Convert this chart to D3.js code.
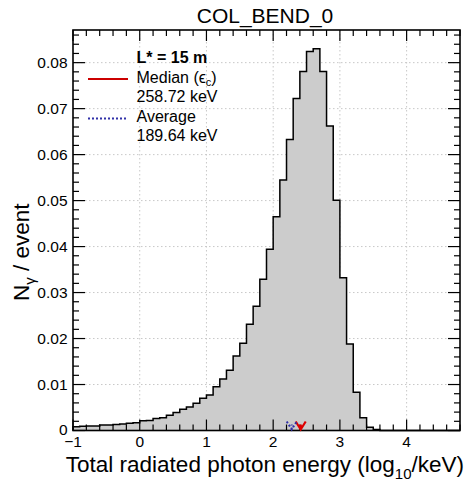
<!DOCTYPE html>
<html><head><meta charset="utf-8">
<script src="https://cdn.jsdelivr.net/npm/d3@7"></script>
<style>body{margin:0;background:#fff}svg{display:block}text{font-family:"Liberation Sans",Arial,sans-serif}</style>
</head><body>
<svg id="c" width="472" height="482"></svg>
<script>
const binStart = -1.0;
const binWidth = 0.1;
const binValues = [
  0.0008,0.0009,0.0010,0.0010,0.0012,0.0012,0.0013,0.0014,0.0016,0.0017,
  0.0021,0.0022,0.0026,0.0028,0.0033,0.0039,0.0046,0.0051,0.0059,0.0070,
  0.0077,0.0095,0.0112,0.0131,0.0162,0.0190,0.0231,0.0270,0.0329,0.0394,
  0.0465,0.0545,0.0633,0.0722,0.0781,0.0824,0.0830,0.0781,0.0662,0.0501,
  0.0332,0.0188,0.0083,0.0028,0.0007,0.0002,0,0,0,0,
  0,0,0,0,0,0,0,0
];
const xTicks = [-1,0,1,2,3,4];
const xTickLabels = ["\u22121","0","1","2","3","4"];
const yTicks = [0,0.01,0.02,0.03,0.04,0.05,0.06,0.07,0.08];
const yTickLabels = ["0","0.01","0.02","0.03","0.04","0.05","0.06","0.07","0.08"];
const legendTitle = "L* = 15 m";
const medianKeV = 258.72;
const averageKeV = 189.64;

const L=73,R=460,T=30,B=430.5;
const svg=d3.select("#c");
const x=d3.scaleLinear().domain([-1,4.8]).range([L,R]);
const y=d3.scaleLinear().domain([0,0.0871]).range([B,T]);

// grid
const g=svg.append("g");
xTicks.filter(v=>v>-1).forEach(v=>g.append("line").attr("x1",x(v)).attr("x2",x(v)).attr("y1",T).attr("y2",B)
  .attr("stroke","#c8c8c8").attr("stroke-dasharray","1.5,2.5"));
yTicks.filter(v=>v>0).forEach(v=>g.append("line").attr("y1",y(v)).attr("y2",y(v)).attr("x1",L).attr("x2",R)
  .attr("stroke","#c8c8c8").attr("stroke-dasharray","1.5,2.5"));

// histogram
let pts=[[x(binStart),y(0)]];
binValues.forEach((v,i)=>{const a=binStart+i*binWidth;pts.push([x(a),y(v)]);pts.push([x(a+binWidth),y(v)]);});
pts.push([x(binStart+binValues.length*binWidth),y(0)]);
svg.append("path").attr("d",d3.line()(pts)).attr("fill","#cccccc").attr("stroke","#000").attr("stroke-width",1.5);

// ticks
const tk=svg.append("g").attr("stroke","#000").attr("stroke-width",1.2);
const xMinor=d3.range(-1,4.81,0.2);
xMinor.forEach(v=>{
  const major=Math.abs(v-Math.round(v))<1e-6;
  const len=major?11:6;
  tk.append("line").attr("x1",x(v)).attr("x2",x(v)).attr("y1",B).attr("y2",B-len);
  tk.append("line").attr("x1",x(v)).attr("x2",x(v)).attr("y1",T).attr("y2",T+len);
});
const yMinor=d3.range(0,0.0871,0.002);
yMinor.forEach(v=>{
  const major=Math.abs(v*100-Math.round(v*100))<1e-6;
  const len=major?12:6;
  tk.append("line").attr("y1",y(v)).attr("y2",y(v)).attr("x1",L).attr("x2",L+len);
  tk.append("line").attr("y1",y(v)).attr("y2",y(v)).attr("x1",R).attr("x2",R-len);
});
svg.append("rect").attr("x",L).attr("y",T).attr("width",R-L).attr("height",B-T).attr("fill","none").attr("stroke","#000").attr("stroke-width",1.6);

// tick labels
xTicks.forEach((v,i)=>svg.append("text").attr("x",x(v)).attr("y",447).attr("text-anchor","middle").attr("font-size",15.5).text(xTickLabels[i]));
yTicks.forEach((v,i)=>svg.append("text").attr("x",67.5).attr("y",y(v)+(v===0?4:5.5)).attr("text-anchor","end").attr("font-size",15.5).text(yTickLabels[i]));

// markers
const mx=x(Math.log10(medianKeV)), ax=x(Math.log10(averageKeV));
svg.append("path").attr("d",`M${mx-5},${B-9}L${mx},${B-1}L${mx+5},${B-9}M${mx},${B-1}L${mx},${B-6}`).attr("fill","none").attr("stroke","#dd0000").attr("stroke-width",2.2);
svg.append("path").attr("d",`M${ax-5},${B-9}L${ax},${B-1}L${ax+5},${B-9}M${ax},${B-1}L${ax},${B-6}`).attr("fill","none").attr("stroke","#3030a8").attr("stroke-width",2).attr("stroke-dasharray","2,2");

// legend
svg.append("text").attr("x",136.5).attr("y",63).attr("font-size",16).attr("font-weight","bold").text(legendTitle);
svg.append("line").attr("x1",88).attr("x2",128).attr("y1",79).attr("y2",79).attr("stroke","#cc0000").attr("stroke-width",2);
const t1=svg.append("text").attr("x",136.5).attr("y",83).attr("font-size",16);
t1.append("tspan").text("Median (\u03f5");
t1.append("tspan").attr("font-size",11).attr("dy",3).text("c");
t1.append("tspan").attr("dy",-3).text(")");
svg.append("text").attr("x",136.5).attr("y",102).attr("font-size",16).text(medianKeV.toFixed(2)+" keV");
svg.append("line").attr("x1",88).attr("x2",128).attr("y1",118.5).attr("y2",118.5).attr("stroke","#3030a8").attr("stroke-width",2).attr("stroke-dasharray","2,2");
svg.append("text").attr("x",136.5).attr("y",121.5).attr("font-size",16).text("Average");
svg.append("text").attr("x",136.5).attr("y",140.5).attr("font-size",16).text(averageKeV.toFixed(2)+" keV");

// title
svg.append("text").attr("x",265).attr("y",23).attr("text-anchor","middle").attr("font-size",21).text("COL_BEND_0");

// axis labels
const xl=svg.append("text").attr("x",464).attr("y",472).attr("text-anchor","end").attr("font-size",22.5);
xl.append("tspan").text("Total radiated photon energy (log");
xl.append("tspan").attr("font-size",15).attr("dy",7).text("10");
xl.append("tspan").attr("dy",-7).text("/keV)");
const yl=svg.append("text").attr("transform","translate(29,301) rotate(-90)").attr("text-anchor","start").attr("font-size",22.5);
yl.append("tspan").text("N");
yl.append("tspan").attr("font-size",15).attr("dy",6).text("\u03b3");
yl.append("tspan").attr("dy",-6).text(" / event");
</script>
</body></html>
